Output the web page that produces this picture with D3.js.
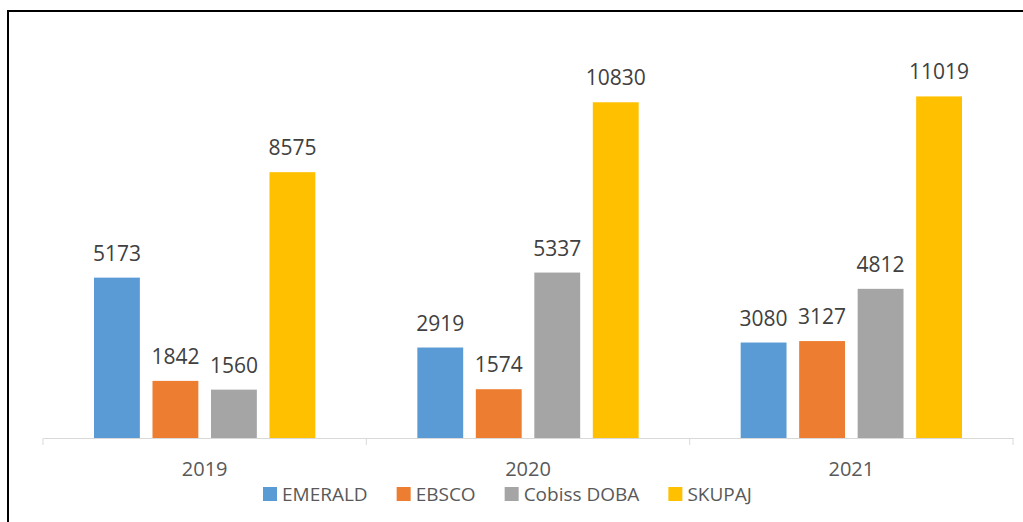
<!DOCTYPE html>
<html>
<head>
<meta charset="utf-8">
<script src="https://cdn.jsdelivr.net/npm/d3@7"></script>
<style>
  body { margin: 0; background: #fff; }
  svg { display: block; }
</style>
</head>
<body>
<script>
const years = ['2019', '2020', '2021'];
const series = ['EMERALD', 'EBSCO', 'Cobiss DOBA', 'SKUPAJ'];
const emerald = [5173, 2919, 3080];
const ebsco = [1842, 1574, 3127];
const cobiss = [1560, 5337, 4812];
const skupaj = [8575, 10830, 11019];
const colors = ['#5B9BD5', '#ED7D31', '#A5A5A5', '#FFC000'];

const values = [emerald, ebsco, cobiss, skupaj];
const rows = years.map((y, i) => ({year: y, vals: series.map((s, j) => ({key: s, value: values[j][i]}))}));

const W = 1023, H = 522;
const margin = {left: 43, right: 10, top: 66, bottom: 84};
const baseY = H - margin.bottom; // 438

const svg = d3.select('body').append('svg')
  .attr('width', W)
  .attr('height', H);

// outer frame
svg.append('rect')
  .attr('x', 8).attr('y', 11)
  .attr('width', 1040).attr('height', 600)
  .attr('fill', 'none')
  .attr('stroke', '#000')
  .attr('stroke-width', 2);

const x0 = d3.scaleBand().domain(years).range([margin.left, W - margin.right]);
const x1 = d3.scaleBand().domain(series).range([51, x0.bandwidth() - 51]).paddingInner(0.216);
const y = d3.scaleLinear().domain([0, 12000]).range([baseY, margin.top]);

// x axis
const xAxis = svg.append('g')
  .attr('transform', 'translate(0,' + baseY + ')')
  .call(d3.axisBottom(x0).tickSize(0).tickPadding(24));
xAxis.select('.domain').attr('stroke', '#d9d9d9').attr('stroke-width', 1);
xAxis.selectAll('text')
  .style('font-family', '"Open Sans", sans-serif')
  .style('font-size', '20px')
  .attr('fill', '#595959');

// category separators
const seps = years.map(y => x0(y)).concat([x0.range()[1]]);
svg.append('g').selectAll('line')
  .data(seps)
  .enter().append('line')
  .attr('x1', d => d).attr('x2', d => d)
  .attr('y1', baseY).attr('y2', baseY + 7)
  .attr('stroke', '#d9d9d9')
  .attr('stroke-width', 1);

// bars
const groups = svg.append('g').selectAll('g')
  .data(rows)
  .enter().append('g')
  .attr('transform', d => 'translate(' + x0(d.year) + ',0)');

groups.selectAll('rect')
  .data(d => d.vals)
  .enter().append('rect')
  .attr('x', d => x1(d.key))
  .attr('y', d => y(d.value))
  .attr('width', x1.bandwidth())
  .attr('height', d => baseY - y(d.value))
  .attr('fill', (d, i) => colors[i]);

groups.selectAll('text')
  .data(d => d.vals)
  .enter().append('text')
  .attr('x', d => x1(d.key) + x1.bandwidth() / 2)
  .attr('y', d => y(d.value) - 17)
  .attr('text-anchor', 'middle')
  .style('font-family', '"Open Sans", sans-serif')
  .style('font-size', '21px')
  .attr('fill', '#404040')
  .text(d => d.value);

// legend
const legend = svg.append('g');
let lx = 263;
series.forEach((s, i) => {
  legend.append('rect')
    .attr('x', lx).attr('y', 487)
    .attr('width', 14).attr('height', 14)
    .attr('fill', colors[i]);
  const t = legend.append('text')
    .attr('x', lx + 19).attr('y', 501)
    .style('font-family', '"Open Sans", sans-serif')
    .style('font-size', '19px')
    .attr('fill', '#595959')
    .text(s);
  lx += 19 + t.node().getComputedTextLength() + 29;
});
</script>
</body>
</html>
